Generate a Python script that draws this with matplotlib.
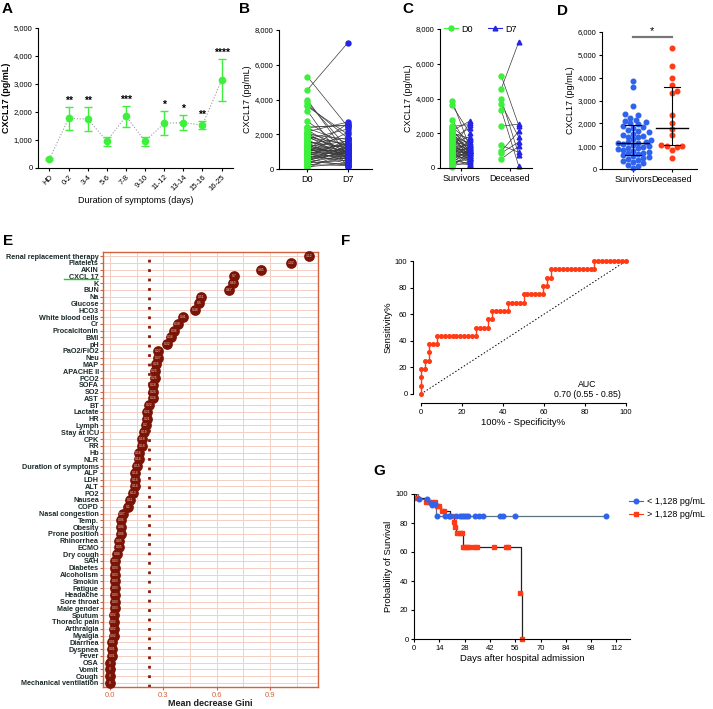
import numpy as np
import matplotlib
matplotlib.use("Agg")
import matplotlib.pyplot as plt
from matplotlib.lines import Line2D
from matplotlib.ticker import FuncFormatter, MultipleLocator

plt.rcParams['font.family'] = ['Liberation Sans', 'DejaVu Sans']
plt.rcParams['axes.linewidth'] = 0.8
plt.rcParams['xtick.major.width'] = 0.8
plt.rcParams['ytick.major.width'] = 0.8
plt.rcParams['xtick.major.size'] = 2.5
plt.rcParams['ytick.major.size'] = 2.5

# ---------------- DATA ----------------
# Panel A
a_categories = ["HD", "0-2", "3-4", "5-6", "7-8", "9-10", "11-12", "13-14", "15-16", "16-25"]
a_means = [320, 1770, 1750, 960, 1850, 950, 1600, 1620, 1530, 3130]
a_low = [300, 1350, 1310, 790, 1470, 790, 1170, 1350, 1390, 2380]
a_high = [340, 2190, 2190, 1120, 2230, 1120, 2040, 1890, 1680, 3880]
a_stars = ["", "**", "**", "", "***", "", "*", "*", "**", "****"]

# Panels B / C (paired D0 -> D7)
survivors_d0 = [3850, 3600, 2750, 2400, 2350, 2250, 2150, 2100, 2050, 2000, 1950, 1900, 1850, 1800,
                1720, 1680, 1600, 1550, 1500, 1450, 1420, 1380, 1300, 1250, 1200, 1170, 1150, 1120,
                1100, 1050, 1000, 980, 940, 900, 870, 830, 800, 760, 720, 680, 650, 600, 560, 520,
                480, 430, 390, 340, 300, 250, 190, 120, 60]
survivors_d7 = [1200, 2000, 1100, 2500, 1500, 900, 2700, 1300, 800, 1700, 1000, 600, 1400, 1150,
                2300, 700, 950, 1250, 500, 1800, 1050, 650, 1600, 850, 400, 1350, 1000, 2600, 750,
                1100, 550, 1450, 900, 300, 1200, 700, 1000, 450, 1650, 850, 600, 1300, 200, 950,
                1050, 250, 800, 500, 1150, 200, 700, 350, 1000]
deceased_d0 = [5320, 4550, 3990, 3690, 3360, 2400, 1310, 960, 860, 520]
deceased_d7 = [2440, 7260, 770, 1770, 100, 2530, 900, 2110, 1500, 1250]

# Panel D
d_groups = ["Survivors", "Deceased"]
d_survivors = survivors_d0
d_deceased = [5300, 4500, 4000, 3700, 3400, 3350, 2350, 2000, 1750, 1500, 1050, 1000, 1000, 950, 850, 500]
d_median = [1150, 1780]
d_q1 = [600, 1030]
d_q3 = [1930, 3600]

# Panel E
e_features = ["Renal replacement therapy", "Platelets", "AKIN", "CXCL 17", "K", "BUN", "Na", "Glucose",
              "HCO3", "White blood cells", "Cr", "Procalcitonin", "BMI", "pH", "PaO2/FiO2", "Neu", "MAP",
              "APACHE II", "PCO2", "SOFA", "SO2", "AST", "BT", "Lactate", "HR", "Lymph", "Stay at ICU",
              "CPK", "RR", "Hb", "NLR", "Duration of symptoms", "ALP", "LDH", "ALT", "PO2", "Nausea",
              "COPD", "Nasal congestion", "Temp.", "Obesity", "Prone position", "Rhinorrhea", "ECMO",
              "Dry cough", "SAH", "Diabetes", "Alcoholism", "Smokin", "Fatigue", "Headache",
              "Sore throat", "Male gender", "Sputum", "Thoracic pain", "Arthralgia", "Myalgia",
              "Diarrhea", "Dyspnea", "Fever", "OSA", "Vomit", "Cough", "Mechanical ventilation"]
e_gini = [1.12, 1.02, 0.85, 0.70, 0.69, 0.67, 0.51, 0.50, 0.48, 0.41, 0.38, 0.36, 0.34, 0.32, 0.27,
          0.27, 0.26, 0.25, 0.25, 0.24, 0.24, 0.24, 0.22, 0.21, 0.21, 0.20, 0.19, 0.18, 0.18, 0.16,
          0.16, 0.15, 0.14, 0.14, 0.14, 0.13, 0.11, 0.10, 0.07, 0.06, 0.06, 0.06, 0.05, 0.05, 0.04,
          0.03, 0.03, 0.03, 0.03, 0.03, 0.03, 0.03, 0.03, 0.02, 0.02, 0.02, 0.02, 0.01, 0.01, 0.01,
          0.0, 0.0, 0.0, 0.0]
e_threshold = 0.22

# Panel F (ROC, %)
f_fpr = [0, 0, 0, 0, 1.9, 1.9, 3.8, 3.8, 3.8, 5.8, 7.7, 7.7, 9.6, 11.5, 13.5, 15.4, 17.3, 19.2, 21.2,
         23.1, 25.0, 26.9, 26.9, 28.8, 30.8, 32.7, 32.7, 34.6, 34.6, 36.5, 38.5, 40.4, 42.3, 42.3,
         44.2, 46.2, 48.1, 50.0, 50.0, 51.9, 53.8, 55.8, 57.7, 59.6, 59.6, 61.5, 61.5, 63.5, 63.5,
         65.4, 67.3, 69.2, 71.2, 73.1, 75.0, 76.9, 78.8, 80.8, 82.7, 84.6, 84.6, 86.5, 88.5, 90.4,
         92.3, 94.2, 96.2, 98.1, 100.0]
f_tpr = [0, 6.25, 12.5, 18.75, 18.75, 25, 25, 31.25, 37.5, 37.5, 37.5, 43.75, 43.75, 43.75, 43.75,
         43.75, 43.75, 43.75, 43.75, 43.75, 43.75, 43.75, 50, 50, 50, 50, 56.25, 56.25, 62.5, 62.5,
         62.5, 62.5, 62.5, 68.75, 68.75, 68.75, 68.75, 68.75, 75, 75, 75, 75, 75, 75, 81.25, 81.25,
         87.5, 87.5, 93.75, 93.75, 93.75, 93.75, 93.75, 93.75, 93.75, 93.75, 93.75, 93.75, 93.75,
         93.75, 100, 100, 100, 100, 100, 100, 100, 100, 100]

# Panel G (Kaplan-Meier)
g_low_t = [0, 2, 8, 10, 12, 106]
g_low_s = [100, 96.8, 95, 92.6, 85, 85]
g_low_mark_t = [2.8, 7.4, 9.2, 10.2, 11.5, 12.5, 17.2, 19.2, 20, 23.5, 25.5, 26.5, 27.5, 28.5, 30,
                33.8, 35.7, 38, 47.7, 49, 55.8, 106]
g_low_mark_s = [96.5, 96.5, 93.8, 92.6, 93, 85, 85, 85, 85, 85, 85, 85, 85, 85, 85, 85, 85, 85, 85,
                85, 85, 85]
g_high_t = [0, 1, 6, 12, 15, 20, 22, 22.5, 23.5, 27, 59, 60]
g_high_s = [100, 97.5, 94.5, 91.5, 88.5, 85, 81, 77, 73, 63.4, 31.6, 0]
g_high_mark_t = [1.5, 6.7, 8.5, 9.8, 11.5, 12.6, 14, 15.3, 16.8, 20.9, 22, 22.9, 24, 25.5, 26.4,
                 27.3, 28.3, 29.5, 30.5, 33, 34.8, 44, 50.8, 52, 58.8, 59.7]
g_high_mark_s = [97, 94.5, 94.5, 94.5, 94.5, 91.5, 91.5, 88.5, 88.5, 85, 81, 77, 73, 73, 73, 63.4,
                 63.4, 63.4, 63.4, 63.4, 63.4, 63.4, 63.4, 63.4, 31.6, 0]
g_labels = ["< 1,128 pg/mL", "> 1,128 pg/mL"]

# ---------------- STYLE ----------------
GREEN = '#3cf03c'
BLUE7 = '#2424e6'
BLUE = '#2f63ee'
RED = '#ff3a14'
W, H = 713, 709

fig = plt.figure(figsize=(W / 100, H / 100), dpi=100)


def rect(x0, x1, ytop, ybot):
    return [x0 / W, 1 - ybot / H, (x1 - x0) / W, (ybot - ytop) / H]


comma = FuncFormatter(lambda v, p: f"{int(v):,}")


def prism(ax):
    ax.spines['top'].set_visible(False)
    ax.spines['right'].set_visible(False)
    ax.tick_params(labelsize=5.5, pad=1.5)


def letter(x, y, s):
    fig.text(x / W, 1 - y / H, s, fontsize=11, fontweight='bold', va='top', ha='left')


# ---------------- A ----------------
ax = fig.add_axes(rect(38, 233, 28, 168))
prism(ax)
x = np.arange(len(a_categories))
m = np.array(a_means); lo = np.array(a_low); hi = np.array(a_high)
ax.plot(x, m, ls=':', color='#9a9a9a', lw=0.8)
ax.errorbar(x, m, yerr=[m - lo, hi - m], fmt='o', color=GREEN, ms=4.5, capsize=3,
            elinewidth=1, capthick=1)
for xi, h, s in zip(x, hi, a_stars):
    if s:
        ax.text(xi, h + 40, s, ha='center', va='bottom', fontsize=7.5, fontweight='bold')
ax.set_xlim(-0.6, 9.6)
ax.set_ylim(0, 5000)
ax.yaxis.set_major_locator(MultipleLocator(1000))
ax.yaxis.set_major_formatter(comma)
ax.set_xticks(x)
ax.set_xticklabels(a_categories, rotation=45, ha='right', rotation_mode='anchor')
ax.set_ylabel("CXCL17 (pg/mL)", fontsize=6.5, fontweight='bold', labelpad=2)
ax.set_xlabel("Duration of symptoms (days)", fontsize=6.5, labelpad=3)
letter(2, 2, "A")

# ---------------- B ----------------
ax = fig.add_axes(rect(279, 372, 30, 169))
prism(ax)
b_d0 = survivors_d0 + deceased_d0
b_d7 = survivors_d7 + deceased_d7
for v0, v7 in zip(b_d0, b_d7):
    ax.plot([0, 1], [v0, v7], color='#3a3a3a', lw=0.5)
ax.plot(np.zeros(len(b_d0)), b_d0, 'o', color=GREEN, ms=3.6, ls='none')
ax.plot(np.ones(len(b_d7)), b_d7, 'o', color=BLUE7, ms=3.6, ls='none')
ax.set_xlim(-0.7, 1.6)
ax.set_ylim(0, 8000)
ax.yaxis.set_major_locator(MultipleLocator(2000))
ax.yaxis.set_major_formatter(comma)
ax.set_xticks([0, 1])
ax.set_xticklabels(["D0", "D7"], fontsize=6.5)
ax.set_ylabel("CXCL17 (pg/mL)", fontsize=6.5, labelpad=2)
letter(239, 2, "B")

# ---------------- C ----------------
ax = fig.add_axes(rect(440, 532, 29, 168))
prism(ax)
off = 0.18
for v0, v7 in zip(survivors_d0, survivors_d7):
    ax.plot([-off, off], [v0, v7], color='#3a3a3a', lw=0.5)
for v0, v7 in zip(deceased_d0, deceased_d7):
    ax.plot([1 - off, 1 + off], [v0, v7], color='#3a3a3a', lw=0.5)
ax.plot([-off] * len(survivors_d0), survivors_d0, 'o', color=GREEN, ms=3.6, ls='none', clip_on=False)
ax.plot([off] * len(survivors_d7), survivors_d7, '^', color=BLUE7, ms=3.4, ls='none', clip_on=False)
ax.plot([1 - off] * len(deceased_d0), deceased_d0, 'o', color=GREEN, ms=3.6, ls='none', clip_on=False)
ax.plot([1 + off] * len(deceased_d7), deceased_d7, '^', color=BLUE7, ms=3.4, ls='none', clip_on=False)
ax.set_xlim(-0.43, 1.45)
ax.set_ylim(0, 8000)
ax.yaxis.set_major_locator(MultipleLocator(2000))
ax.yaxis.set_major_formatter(comma)
ax.set_xticks([0, 1])
ax.set_xticklabels(["Survivors", "Deceased"], fontsize=6.5)
ax.set_ylabel("CXCL17 (pg/mL)", fontsize=6.5, labelpad=2)
hC = [Line2D([], [], color=GREEN, marker='o', ms=3.6, lw=0.8),
      Line2D([], [], color=BLUE7, marker='^', ms=3.4, lw=0.8)]
ax.legend(hC, ["D0", "D7"], ncol=2, frameon=False, fontsize=6.5, loc='center left',
          bbox_to_anchor=(0.0, 1.0), handlelength=1.6, columnspacing=1.6, handletextpad=0.4,
          borderaxespad=0)
letter(402, 2, "C")

# ---------------- D ----------------
ax = fig.add_axes(rect(602, 697, 32, 169))
prism(ax)
ypx = 137 / 6000.0
xpx = 39.0


def swarm(vals, center, d=5.2):
    vals = np.asarray(vals, float)
    order = np.argsort(vals)
    placed = []
    xs = np.zeros(len(vals))
    cands = [0.0] + [s * k * d * 0.5 for k in range(1, 40) for s in (1, -1)]
    for i in order:
        y = vals[i] * ypx
        for c in cands:
            if all((c - px) ** 2 + (y - py) ** 2 >= d ** 2 for px, py in placed):
                break
        placed.append((c, y))
        xs[i] = center + c / xpx
    return xs


ax.plot(swarm(d_survivors, 0), d_survivors, 'o', color=BLUE, ms=3.3, ls='none', clip_on=False)
ax.plot(swarm(d_deceased, 1), d_deceased, 'o', color=RED, ms=3.3, ls='none', clip_on=False)
for i in range(2):
    ax.plot([i - 0.42, i + 0.42], [d_median[i]] * 2, color='black', lw=1.0)
    ax.plot([i, i], [d_q1[i], d_q3[i]], color='black', lw=0.8)
    ax.plot([i - 0.2, i + 0.2], [d_q1[i]] * 2, color='black', lw=0.8)
    ax.plot([i - 0.2, i + 0.2], [d_q3[i]] * 2, color='black', lw=0.8)
ax.plot([0, 1], [5800, 5800], color='#777777', lw=1.6, clip_on=False)
ax.text(0.5, 5830, "*", ha='center', va='bottom', fontsize=8)
ax.set_xlim(-0.8, 1.65)
ax.set_ylim(0, 6000)
ax.yaxis.set_major_locator(MultipleLocator(1000))
ax.yaxis.set_major_formatter(comma)
ax.set_xticks([0, 1])
ax.set_xticklabels(d_groups, fontsize=6.5)
ax.set_ylabel("CXCL17 (pg/mL)", fontsize=6.5, labelpad=2)
letter(557, 4, "D")

# ---------------- E ----------------
FRAME = '#d0643c'
ax = fig.add_axes(rect(103, 318, 252, 687))
n = len(e_features)
rows = np.arange(n)
ax.set_xlim(-0.04, 1.17)
ax.set_ylim(n - 0.4, -0.6)
for v in np.arange(0, 1.2, 0.15):
    ax.axvline(v, color='#f3cfc2', lw=0.7, zorder=0)
for r in rows:
    ax.axhline(r, color='#f3cfc2', lw=0.7, zorder=0)
ax.axvline(e_threshold, color='#8a1a08', lw=2.0, ls=(0, (1, 2.4)), zorder=1)
ax.scatter(e_gini, rows, s=60, color='#7a1406', zorder=3, clip_on=False, linewidths=0)
for g, r in zip(e_gini, rows):
    ax.text(g, r, f"{g:g}", ha='center', va='center', fontsize=2.4, color='#f0c8c0', zorder=4)
for sp in ax.spines.values():
    sp.set_color(FRAME)
    sp.set_linewidth(1.0)
ax.set_yticks(rows)
ax.set_yticklabels(e_features, fontsize=5.2, fontweight='bold', color='#1c2a2a',
                   family=['Liberation Sans Narrow', 'Liberation Sans', 'DejaVu Sans'])
ax.set_xticks([0.0, 0.3, 0.6, 0.9])
ax.set_xticklabels(["0.0", "0.3", "0.6", "0.9"])
ax.tick_params(axis='x', colors=FRAME, labelsize=5.5, length=2, pad=1.5)
ax.tick_params(axis='y', color=FRAME, length=2, pad=1)
ax.set_xlabel("Mean decrease Gini", fontsize=6.5, fontweight='bold', labelpad=0, color='#1c1c1c')
fig.add_artist(Line2D([64 / W, 98 / W], [1 - 279.5 / H, 1 - 279.5 / H], color='#22cc22', lw=1))
letter(3, 234, "E")

# ---------------- F ----------------
ax = fig.add_axes(rect(421, 626, 261, 394))
prism(ax)
ax.spines['left'].set_position(('outward', 5.8))
ax.spines['bottom'].set_position(('outward', 6.5))
ax.plot([0, 100], [0, 100], ls=(0, (1.5, 2)), color='black', lw=0.7)
ax.plot(f_fpr, f_tpr, '-o', color=RED, ms=2.6, lw=1.0, clip_on=False)
ax.set_xlim(0, 100)
ax.set_ylim(0, 100)
ax.set_xticks(range(0, 101, 20))
ax.set_yticks(range(0, 101, 20))
ax.text(81, 7.5, "AUC", ha='center', va='center', fontsize=6.3)
ax.text(81, -0.5, "0.70 (0.55 - 0.85)", ha='center', va='center', fontsize=6.3)
ax.set_xlabel("100% - Specificity%", fontsize=6.8, labelpad=2)
ax.set_ylabel("Sensitivity%", fontsize=6.8, labelpad=2)
letter(341, 234, "F")

# ---------------- G ----------------
ax = fig.add_axes(rect(414, 630, 494, 639))
prism(ax)
ax.step(g_low_t, g_low_s, where='post', color='#5d7380', lw=0.9)
ax.step(g_high_t, g_high_s, where='post', color='#222222', lw=0.9)
ax.plot(g_high_mark_t, g_high_mark_s, 's', color=RED, ms=3.3, ls='none', clip_on=False)
ax.plot(g_low_mark_t, g_low_mark_s, 'o', color=BLUE, ms=3.3, ls='none', clip_on=False)
ax.set_xlim(0, 119.5)
ax.set_ylim(0, 100)
ax.set_xticks(range(0, 113, 14))
ax.set_yticks(range(0, 101, 20))
ax.set_xlabel("Days after hospital admission", fontsize=6.8, labelpad=2)
ax.set_ylabel("Probability of Survival", fontsize=6.8, labelpad=2)
hG = [Line2D([], [], color=BLUE, marker='o', ms=3.3, lw=0.8),
      Line2D([], [], color=RED, marker='s', ms=3.3, lw=0.8)]
fig.legend(hG, g_labels, loc='upper left', bbox_to_anchor=(629 / W, 1 - 497 / H), frameon=False,
           fontsize=6.5, handlelength=1.6, handletextpad=0.4, labelspacing=0.45, borderaxespad=0,
           borderpad=0)
letter(373, 464, "G")

fig.savefig("out.png", dpi=100)
